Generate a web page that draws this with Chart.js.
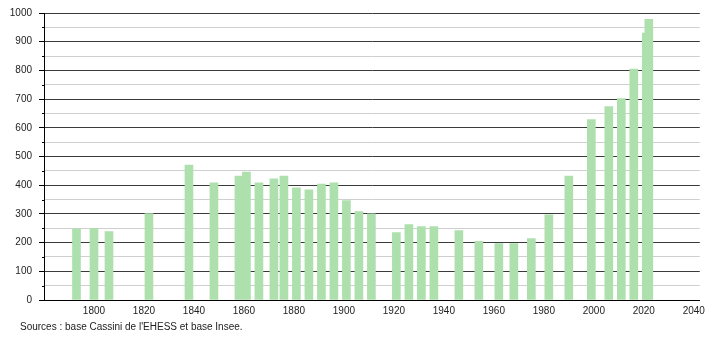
<!DOCTYPE html>
<html>
<head>
<meta charset="utf-8">
<script src="https://cdn.jsdelivr.net/npm/chart.js@4/dist/chart.umd.min.js"></script>
<style>
html,body{margin:0;padding:0;background:#fff;}
#wrap{width:710px;height:340px;position:relative;}
#src{position:absolute;left:20px;top:321px;font:10px "Liberation Sans",Arial,sans-serif;color:#222;white-space:nowrap;line-height:12px;}
</style>
</head>
<body>
<div id="wrap"><canvas id="c" width="710" height="340"></canvas><div id="src"></div></div>
<script>
const years = [1793, 1800, 1806, 1822, 1838, 1848, 1858, 1861, 1866, 1872, 1876, 1881, 1886, 1891, 1896, 1901, 1906, 1911, 1921, 1926, 1931, 1936, 1946, 1954, 1962, 1968, 1975, 1982, 1990, 1999, 2006, 2011, 2016, 2021, 2022];
const population = [248, 249, 238, 301, 470, 408, 432, 446, 408, 422, 432, 391, 384, 404, 408, 346, 308, 300, 235, 263, 256, 256, 242, 204, 197, 197, 214, 297, 432, 629, 674, 702, 805, 930, 978];
const xTickLabels = [1800, 1820, 1840, 1860, 1880, 1900, 1920, 1940, 1960, 1980, 2000, 2020, 2040];
const yTickLabels = [0, 100, 200, 300, 400, 500, 600, 700, 800, 900, 1000];
const sourceText = "Sources : base Cassini de l'EHESS et base Insee.";

document.getElementById('src').textContent = sourceText;

const FONT = '"Liberation Sans", Arial, sans-serif';

const minorTicks = {
  id: 'minorTicks',
  afterDraw(chart) {
    const y = chart.scales.y, ctx = chart.ctx;
    ctx.save();
    ctx.strokeStyle = '#000';
    ctx.lineWidth = 1;
    for (let v = 50; v < 1000; v += 100) {
      const py = Math.round(y.getPixelForValue(v)) + 0.5;
      ctx.beginPath();
      ctx.moveTo(y.right - 2, py);
      ctx.lineTo(y.right, py);
      ctx.stroke();
    }
    ctx.restore();
  }
};

new Chart(document.getElementById('c'), {
  type: 'bar',
  data: {
    datasets: [{
      data: years.map((yr, i) => ({x: yr, y: population[i]})),
      backgroundColor: '#ade0ad',
      borderWidth: 0,
      barThickness: 8
    }]
  },
  options: {
    responsive: false,
    animation: false,
    layout: {padding: {left: 0, right: 9, top: 4, bottom: 22}},
    plugins: {
      legend: {display: false},
      tooltip: {enabled: false},
      title: {display: false}
    },
    scales: {
      x: {
        type: 'linear',
        min: 1780,
        max: 2042.4,
        offset: false,
        grid: {display: false, drawTicks: false, offset: false},
        border: {display: true, color: '#000', width: 1},
        afterBuildTicks: s => { s.ticks = xTickLabels.map(v => ({value: v})); },
        afterFit: s => { s.height = 18; },
        ticks: {
          color: '#222',
          font: {family: FONT, size: 10},
          padding: 5,
          maxRotation: 0,
          autoSkip: false,
          callback: v => String(v)
        }
      },
      y: {
        min: 0,
        max: 1000,
        afterFit: s => { s.width = 44; },
        afterBuildTicks: s => {
          const t = [];
          for (let v = 0; v <= 1000; v += 50) t.push({value: v});
          s.ticks = t;
        },
        grid: {
          color: c => (c.tick && c.tick.value % 100 === 0) ? '#3a3a3a' : '#cfcfcf',
          tickColor: c => (c.tick && c.tick.value % 100 === 0) ? '#000' : 'rgba(0,0,0,0)',
          tickLength: 5,
          lineWidth: 1
        },
        border: {display: true, color: '#000', width: 1},
        ticks: {
          color: '#222',
          font: {family: FONT, size: 10},
          padding: 7,
          autoSkip: false,
          callback: v => yTickLabels.includes(v) ? String(v) : ''
        }
      }
    }
  },
  plugins: [minorTicks]
});
</script>
</body>
</html>
